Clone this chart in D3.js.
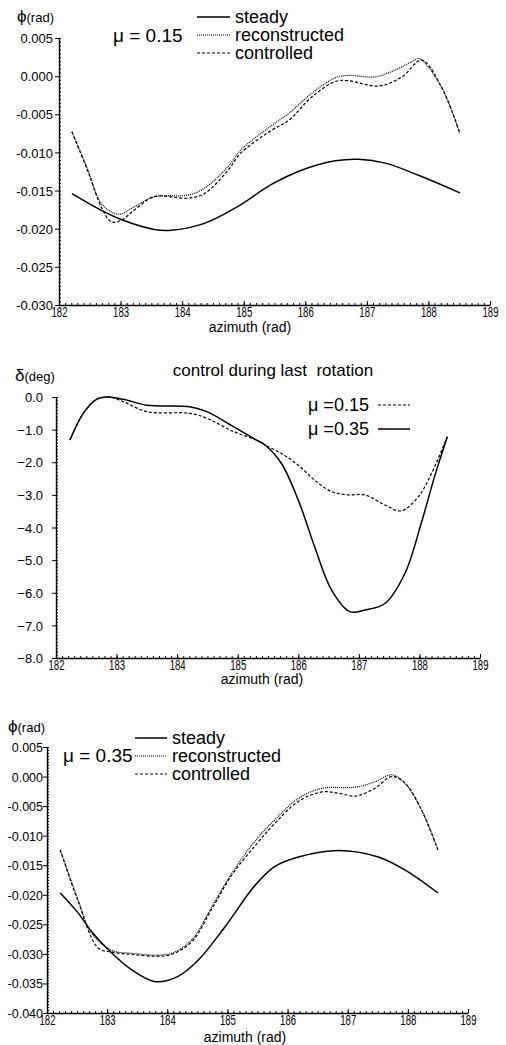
<!DOCTYPE html>
<html>
<head>
<meta charset="utf-8">
<script src="https://cdn.jsdelivr.net/npm/d3@7"></script>
<style>
  body { margin: 0; background: #fff; }
  text { font-family: "Liberation Sans", Arial, sans-serif; fill: #000; }
</style>
</head>
<body>
<svg id="chart"></svg>
<script>
// ---- panel 1 : mu = 0.15, roll angle phi (rad)
var p1SteadyX = [182.21, 182.69, 183.01, 183.55, 183.82, 184.36, 184.90, 185.45, 185.95, 186.49, 186.87, 187.30, 187.84, 188.51];
var p1SteadyY = [-0.0154, -0.0176, -0.0188, -0.0201, -0.0202, -0.0193, -0.0171, -0.0142, -0.0123, -0.0111, -0.0109, -0.0114, -0.0130, -0.0153];
var p1ReconX = [182.21, 182.47, 182.69, 182.96, 183.23, 183.55, 184.09, 184.36, 184.74, 184.95, 185.45, 185.73, 186.11, 186.49, 186.70, 187.13, 187.46, 187.73, 187.85, 188.21, 188.51];
var p1ReconY = [-0.0073, -0.0123, -0.0167, -0.0181, -0.0171, -0.0158, -0.0156, -0.0147, -0.0119, -0.0097, -0.0065, -0.0049, -0.0022, -0.0002, 0.0001, -0.0001, 0.0008, 0.0019, 0.0023, -0.0014, -0.0075];
var p1CtrlX = [182.21, 182.47, 182.69, 182.85, 183.01, 183.23, 183.55, 184.09, 184.36, 184.74, 184.95, 185.45, 185.73, 186.11, 186.49, 186.70, 187.19, 187.57, 187.89, 188.21, 188.51];
var p1CtrlY = [-0.0073, -0.0125, -0.0172, -0.0191, -0.0189, -0.0175, -0.0158, -0.0160, -0.0154, -0.0124, -0.0101, -0.0071, -0.0058, -0.0027, -0.0007, -0.0006, -0.0013, -0.0001, 0.0021, -0.0014, -0.0075];

// ---- panel 2 : control angle delta (deg)
var p2Mu35X = [182.23, 182.45, 182.67, 182.86, 183.11, 183.50, 184.21, 184.49, 184.93, 185.31, 185.45, 185.72, 186.00, 186.27, 186.55, 186.85, 187.10, 187.43, 187.76, 188.03, 188.25, 188.46];
var p2Mu35Y = [-1.32, -0.50, -0.07, 0.0, -0.07, -0.25, -0.30, -0.45, -0.91, -1.32, -1.47, -2.03, -3.16, -4.59, -5.92, -6.58, -6.53, -6.33, -5.41, -3.87, -2.44, -1.22];
var p2Mu15X = [182.23, 182.45, 182.67, 182.86, 183.11, 183.50, 184.21, 184.49, 184.93, 185.31, 185.45, 185.72, 186.00, 186.27, 186.55, 186.82, 187.10, 187.43, 187.70, 187.98, 188.20, 188.46];
var p2Mu15Y = [-1.32, -0.50, -0.07, 0.0, -0.14, -0.45, -0.50, -0.65, -1.06, -1.32, -1.47, -1.73, -2.09, -2.55, -2.90, -3.00, -3.00, -3.31, -3.49, -3.06, -2.34, -1.22];

// ---- panel 3 : mu = 0.35, roll angle phi (rad)
var p3SteadyX = [182.22, 182.52, 182.74, 183.08, 183.41, 183.80, 184.18, 184.52, 184.96, 185.46, 185.79, 186.18, 186.84, 187.51, 187.95, 188.50];
var p3SteadyY = [-0.0197, -0.0231, -0.0262, -0.0299, -0.0327, -0.0347, -0.0338, -0.0310, -0.0254, -0.0184, -0.0152, -0.0136, -0.0125, -0.0136, -0.0158, -0.0197];
var p3ReconX = [182.22, 182.52, 182.74, 183.08, 183.41, 183.80, 184.07, 184.41, 184.74, 185.07, 185.46, 185.79, 186.18, 186.57, 187.12, 187.45, 187.73, 187.95, 188.23, 188.50];
var p3ReconY = [-0.0124, -0.0209, -0.0265, -0.0294, -0.0299, -0.0302, -0.0299, -0.0276, -0.0220, -0.0164, -0.0109, -0.0073, -0.0037, -0.0020, -0.0018, -0.0009, 0.0003, -0.0011, -0.0057, -0.0124];
var p3CtrlX = [182.22, 182.52, 182.85, 183.08, 183.41, 183.80, 184.07, 184.41, 184.74, 185.07, 185.46, 185.79, 186.18, 186.57, 186.84, 187.12, 187.45, 187.73, 187.95, 188.23, 188.50];
var p3CtrlY = [-0.0124, -0.0212, -0.0290, -0.0297, -0.0301, -0.0304, -0.0301, -0.0279, -0.0224, -0.0167, -0.0117, -0.0079, -0.0042, -0.0026, -0.0028, -0.0033, -0.0020, 0.0000, -0.0011, -0.0057, -0.0124];

// tick labels
var xTicks = [182, 183, 184, 185, 186, 187, 188, 189];
var phiTicks1 = [0.005, 0.000, -0.005, -0.010, -0.015, -0.020, -0.025, -0.030];
var phiTicks3 = [0.005, 0.000, -0.005, -0.010, -0.015, -0.020, -0.025, -0.030, -0.035, -0.040];
var deltaTicks = [0, -1, -2, -3, -4, -5, -6, -7, -8];

var legendPhi = ["steady", "reconstructed", "controlled"];
var legendDelta = ["\u03bc =0.15", "\u03bc =0.35"];

var svg = d3.select("#chart").attr("width", 506).attr("height", 1045);

var styles = {
  solid: { dash: null, width: 1.5 },
  dotted: { dash: "1,1", width: 1.2 },
  dashed: { dash: "3,2", width: 1.2 }
};

function zip(xs, ys) {
  return xs.map(function(x, i) { return { x: x, y: ys[i] }; });
}

var drawPanel = function(cfg)
{
  var xScale = d3.scaleLinear().domain([182, 189]).range(cfg.xRange);
  var yScale = d3.scaleLinear().domain(cfg.yDomain).range(cfg.yRange);
  var g = svg.append("g");

  // minor ticks first, then the main axes
  var yMinor = d3.range(cfg.yDomain[1], cfg.yDomain[0] + cfg.yMinorStep / 2, cfg.yMinorStep);
  g.append("g")
    .attr("transform", "translate(" + cfg.xRange[0] + ",0)")
    .call(d3.axisRight(yScale).tickValues(yMinor).tickSize(2).tickFormat(""))
    .call(function(a) { a.select(".domain").remove(); });
  var xMinor = d3.range(182, 189.05, 0.1);
  g.append("g")
    .attr("transform", "translate(0," + cfg.yRange[1] + ")")
    .call(d3.axisTop(xScale).tickValues(xMinor).tickSize(2).tickFormat(""))
    .call(function(a) { a.select(".domain").remove(); });

  var yAxis = g.append("g")
    .attr("transform", "translate(" + cfg.xRange[0] + ",0)")
    .call(d3.axisLeft(yScale).tickValues(cfg.yTicks).tickSizeOuter(0).tickSizeInner(4)
      .tickPadding(cfg.yPad).tickFormat(cfg.yFormat));
  yAxis.selectAll("text").style("font-size", cfg.yFont).attr("dy", "0.36em");

  var xAxis = g.append("g")
    .attr("transform", "translate(0," + cfg.yRange[1] + ")")
    .call(d3.axisBottom(xScale).tickValues(xTicks).tickSizeOuter(0).tickSizeInner(-4)
      .tickPadding(2).tickFormat(d3.format("d")));
  xAxis.selectAll("text").style("font-size", "14px")
    .attr("textLength", 16).attr("lengthAdjust", "spacingAndGlyphs");

  g.selectAll(".domain").attr("stroke-width", 1.4);

  var lineDrawer = d3.line()
    .x(function(d) { return xScale(d.x); })
    .y(function(d) { return yScale(d.y); })
    .curve(d3.curveCatmullRom.alpha(0.5));

  cfg.series.forEach(function(s) {
    g.append("path")
      .datum(zip(s.x, s.y))
      .attr("d", lineDrawer)
      .attr("fill", "none")
      .attr("stroke", "#000")
      .attr("stroke-width", styles[s.style].width)
      .attr("stroke-dasharray", styles[s.style].dash);
  });

  g.append("text")
    .text("azimuth (rad)")
    .attr("x", cfg.xTitle[0]).attr("y", cfg.xTitle[1])
    .attr("text-anchor", "middle")
    .style("font-size", "14px");

  var yt = g.append("text").attr("x", cfg.yTitle[0]).attr("y", cfg.yTitle[1]);
  yt.append("tspan").text(cfg.yTitleSym).style("font-size", "17px");
  yt.append("tspan").text(cfg.yTitleUnit).style("font-size", "13px");

  // legend
  cfg.legend.forEach(function(item, i) {
    var ly = cfg.legendY[i];
    g.append("line")
      .attr("x1", cfg.legendLine[0]).attr("x2", cfg.legendLine[1])
      .attr("y1", ly).attr("y2", ly)
      .attr("stroke", "#000")
      .attr("stroke-width", styles[item.style].width)
      .attr("stroke-dasharray", styles[item.style].dash);
    g.append("text")
      .text(item.label)
      .attr("x", cfg.legendText).attr("y", ly)
      .attr("dy", "0.35em")
      .style("font-size", "18px");
  });

  if (cfg.note) {
    g.append("text")
      .text(cfg.note[2])
      .attr("x", cfg.note[0]).attr("y", cfg.note[1])
      .style("font-size", "19px");
  }
};

var hyphen = function(f) { return function(d) { return f(d).replace("\u2212", "-"); }; };

drawPanel({
  xRange: [59, 490], yDomain: [0.005, -0.030], yRange: [38, 305],
  yTicks: phiTicks1, yMinorStep: 0.0005, yPad: 2, yFont: "13px", yFormat: hyphen(d3.format(".3f")),
  xTitle: [250, 332], yTitle: [17, 22], yTitleSym: "\u03d5", yTitleUnit: "(rad)",
  series: [
    { x: p1SteadyX, y: p1SteadyY, style: "solid" },
    { x: p1ReconX, y: p1ReconY, style: "dotted" },
    { x: p1CtrlX, y: p1CtrlY, style: "dashed" }
  ],
  legend: [
    { label: legendPhi[0], style: "solid" },
    { label: legendPhi[1], style: "dotted" },
    { label: legendPhi[2], style: "dashed" }
  ],
  legendY: [17, 35, 53], legendLine: [197, 230], legendText: 235,
  note: [113, 42, "\u03bc = 0.15"]
});

drawPanel({
  xRange: [56, 480], yDomain: [0, -8], yRange: [397, 658],
  yTicks: deltaTicks, yMinorStep: 0.1, yPad: 9, yFont: "13px", yFormat: d3.format(".1f"),
  xTitle: [262, 684], yTitle: [15, 381], yTitleSym: "\u03b4", yTitleUnit: "(deg)",
  series: [
    { x: p2Mu15X, y: p2Mu15Y, style: "dashed" },
    { x: p2Mu35X, y: p2Mu35Y, style: "solid" }
  ],
  legend: [
    { label: legendDelta[0], style: "dashed" },
    { label: legendDelta[1], style: "solid" }
  ],
  legendY: [405, 429], legendLine: [378, 410], legendText: 308
});

svg.append("text")
  .text("control during last  rotation")
  .attr("x", 273).attr("y", 376)
  .attr("text-anchor", "middle")
  .style("font-size", "17px")
  .style("white-space", "pre");

drawPanel({
  xRange: [47, 468], yDomain: [0.005, -0.040], yRange: [747, 1013],
  yTicks: phiTicks3, yMinorStep: 0.0005, yPad: 0, yFont: "12.5px", yFormat: hyphen(d3.format(".3f")),
  xTitle: [245, 1042], yTitle: [8, 732], yTitleSym: "\u03d5", yTitleUnit: "(rad)",
  series: [
    { x: p3SteadyX, y: p3SteadyY, style: "solid" },
    { x: p3ReconX, y: p3ReconY, style: "dotted" },
    { x: p3CtrlX, y: p3CtrlY, style: "dashed" }
  ],
  legend: [
    { label: legendPhi[0], style: "solid" },
    { label: legendPhi[1], style: "dotted" },
    { label: legendPhi[2], style: "dashed" }
  ],
  legendY: [738, 756, 774], legendLine: [135, 167], legendText: 172,
  note: [63, 762, "\u03bc = 0.35"]
});
</script>
</body>
</html>
